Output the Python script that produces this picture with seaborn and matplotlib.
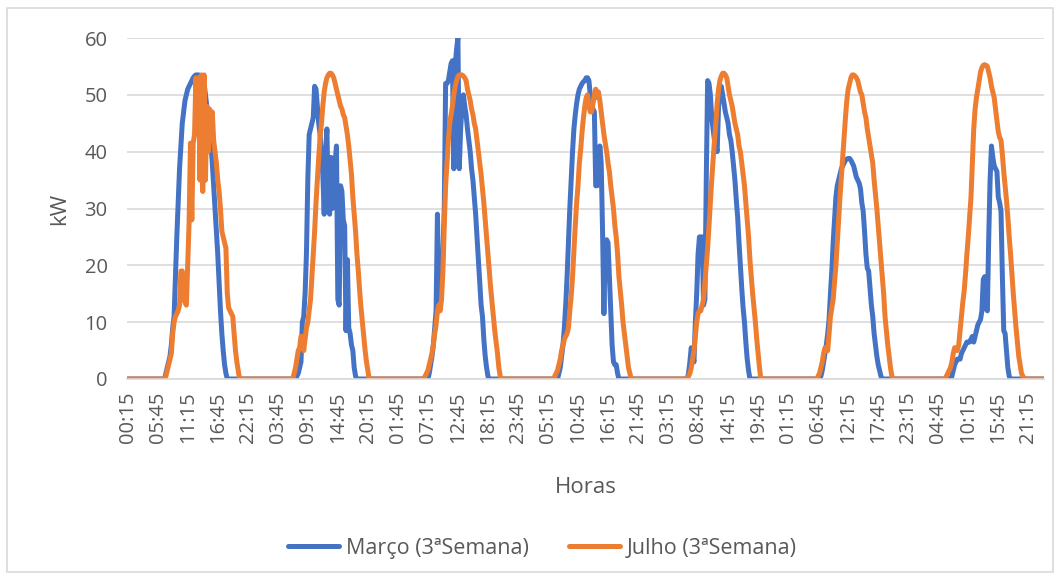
import numpy as np
import pandas as pd
import matplotlib
matplotlib.use("Agg")
import matplotlib.pyplot as plt
from matplotlib.lines import Line2D
from matplotlib.patches import Rectangle
import seaborn as sns

# ---------------- data (kW, 15-min steps, 7 days) ----------------
series_names = ["Março (3ªSemana)", "Julho (3ªSemana)"]
colors = ["#4472C4", "#ED7D31"]

# first non-zero step of each day (index within the day, 0 = 00:15)
marco_start = [27, 27, 28, 27, 26, 27, 27]
julho_start = [28, 25, 25, 24, 26, 25, 23]

marco_d1 = [0, 1, 2, 3, 4, 6, 9, 11, 18, 25, 31, 37, 41, 45, 47, 49, 50, 51, 51.5, 52,
            52.5, 53, 53.3, 53.5, 53.5, 53.5, 53.3, 53.2, 53, 52, 50, 48, 46, 43, 41.5, 38,
            34, 30, 26, 22, 17, 12, 8, 5, 2.5, 1, 0]
marco_d2 = [0, 0.5, 1, 2, 3, 10, 11, 15, 22, 35, 43, 44, 45, 46, 51.5, 51, 48, 45, 43, 39,
            36, 29, 40, 44, 30, 29, 39, 30, 35, 38, 41, 14, 13, 34, 33, 28, 27, 8.5, 21, 9,
            8, 6, 5, 2, 0.5, 0]
marco_d3 = [0, 1, 2.5, 4, 6, 9, 12, 29, 14, 15, 17, 22, 30, 52, 52, 52.5, 54, 55.5, 56, 37,
            55, 58, 60, 37, 44, 48, 50, 48, 46.5, 44, 42, 40, 37, 35, 32, 29, 25, 21, 17, 13,
            11, 7, 4, 2, 0.5, 0]
marco_d4 = [0, 1, 2, 4, 6, 9, 13, 18, 24, 30, 35, 40, 44, 46.5, 48.5, 50, 51, 51.5, 52, 52.3,
            52.5, 53, 53, 52.5, 50, 48, 47.5, 47, 34, 34, 36, 41, 38, 26, 11.5, 24, 24.5, 24,
            18, 12, 6, 3, 2.5, 2.5, 1, 0]
marco_d5 = [0, 1, 3, 5.5, 4, 3, 10, 15, 22, 25, 25, 25, 13, 14, 35, 52.5, 52, 50, 46, 44,
            42, 41, 40, 48, 50.5, 51.5, 50, 48.5, 47, 46, 45, 43, 42, 40, 37.5, 35, 31.5, 28.5,
            24, 20, 16, 12.5, 10, 6.5, 3.5, 1.5, 0]
marco_d6 = [0, 0.5, 1.5, 3, 4.5, 6, 8, 10.5, 15, 19, 24, 28, 32, 34, 35, 36, 37, 37.5, 38, 38.5,
            38.7, 38.8, 38.8, 38.5, 38, 37.5, 36.5, 35.5, 35, 34.5, 33.5, 31, 29.5, 26, 22, 19.5,
            19, 16, 13, 11, 8, 6, 4, 2.5, 1.5, 0.5, 0]
marco_d7 = [0, 0.5, 1.5, 2.5, 3, 3.5, 3.5, 3.5, 4.5, 5, 5.5, 6, 6.5, 6.5, 6.5, 7, 7.5, 6.5, 7.5, 8.5,
            9.5, 10, 10.5, 12, 17.5, 18, 12.5, 12, 25, 35, 41, 39, 37.5, 37, 36.5, 32, 31, 29.5,
            18, 8.5, 8, 5, 2, 0.5, 0]

julho_d1 = [0.5, 1.5, 2.5, 3.5, 4.5, 8, 10, 11, 11.5, 12, 13, 19, 19, 14, 13.5, 13, 20, 27.5, 41.5, 28,
            41.5, 43, 53, 44, 53, 35, 53.5, 33, 53.5, 35, 48, 40, 47.5, 42, 47, 42, 40, 38, 35, 33,
            30, 26, 25, 24, 23, 15, 12.5, 12, 11.5, 11, 8, 5, 3, 1.5, 0]
julho_d2 = [0, 1, 2, 3.5, 5, 5.5, 7.5, 7.5, 5, 7, 9, 10, 12, 14, 18, 22, 26, 31, 35, 39,
            42.5, 45, 48, 50.5, 52, 53, 53.5, 53.8, 53.8, 53.5, 53, 52, 51, 50, 49, 48, 47.5, 46.5,
            46, 44.5, 43, 41, 38.5, 36, 32, 29, 26, 22, 19, 15.5, 12.5, 10, 7.5, 5, 3, 1.5, 0]
julho_d3 = [0, 0.5, 1, 1.5, 2.5, 3.5, 4.5, 6, 8, 9.5, 12, 13, 12, 14, 19, 27, 34, 38, 42, 45,
            46.5, 48, 50, 51.5, 52.5, 53.2, 53.5, 53.5, 53.5, 53.3, 53, 52.5, 51, 50, 49, 47.5,
            46.5, 45, 44, 42, 40, 38, 36, 33.5, 31, 28, 25, 22, 19, 16, 13.5, 11, 8.5, 6.5, 4.5,
            2, 0.5, 0]
julho_d4 = [0, 0.5, 1, 1.5, 2.5, 3.5, 5, 6, 7, 7.5, 8, 9, 12, 14.5, 18, 22.5, 27, 31, 34, 38,
            40.5, 43.5, 46, 48, 49.5, 50, 48, 47, 47, 48.5, 50, 51, 49.5, 50.5, 49, 47, 45, 43,
            41.5, 40, 38, 36.5, 34, 32, 30, 27, 25, 22, 18, 15.5, 13, 10, 8, 6, 4, 2, 1, 0]
julho_d5 = [0, 0.5, 1, 2, 3.5, 5, 7.5, 10, 11.5, 12, 12, 13, 14, 17, 20, 23, 27, 31, 35, 38.5,
            42, 45, 48.5, 51, 52.5, 53.3, 53.8, 53.8, 53.5, 53, 51.5, 50, 49, 48, 46.5, 45, 44, 43,
            41, 40, 38, 36, 34, 31, 28, 25, 21, 18, 15, 12.5, 10, 7, 4.5, 2, 0]
julho_d6 = [0, 0.5, 1, 2, 3, 4.5, 5.5, 5, 5, 8, 11, 12.5, 14, 17, 20, 24, 28, 32, 35.5, 39,
            42.5, 46, 49, 51, 52, 53, 53.5, 53.5, 53.3, 53, 52.5, 51.5, 50.5, 50, 48.5, 47, 46, 44,
            42.5, 41, 39.5, 38, 35, 32.5, 30, 27, 24, 21, 18, 15, 11, 8.5, 6, 4, 2, 0.5, 0]
julho_d7 = [0, 0.5, 1, 1.5, 2, 3, 4.5, 5.5, 5.5, 5, 6, 8.5, 11, 13.5, 15.5, 18.5, 22, 25, 28.5, 32,
            38, 44, 47.5, 49.5, 51, 52.5, 54, 54.8, 55.2, 55.3, 55.2, 55, 54, 53, 51.5, 50.5, 49.5,
            47.5, 45.5, 43.5, 42.5, 42, 39.5, 36.5, 34, 31.5, 28.5, 25, 22, 18.5, 15, 12, 9, 6.5,
            4, 2.5, 1, 0.5, 0]

tick_labels = ["00:15", "05:45", "11:15", "16:45", "22:15", "03:45", "09:15", "14:45",
               "20:15", "01:45", "07:15", "12:45", "18:15", "23:45", "05:15", "10:45",
               "16:15", "21:45", "03:15", "08:45", "14:15", "19:45", "01:15", "06:45",
               "12:15", "17:45", "23:15", "04:45", "10:15", "15:45", "21:15"]
tick_step = 22
steps_per_day = 96
n_days = 7
y_ticks = [0, 10, 20, 30, 40, 50, 60]


def build(starts, days):
    full = np.zeros(steps_per_day * n_days)
    for d, (s, vals) in enumerate(zip(starts, days)):
        a = d * steps_per_day + s
        full[a:a + len(vals)] = vals
    return full


marco = build(marco_start, [marco_d1, marco_d2, marco_d3, marco_d4, marco_d5, marco_d6, marco_d7])
julho = build(julho_start, [julho_d1, julho_d2, julho_d3, julho_d4, julho_d5, julho_d6, julho_d7])
idx = np.arange(steps_per_day * n_days)

df = pd.concat([
    pd.DataFrame({"idx": idx, "kW": marco, "serie": series_names[0]}),
    pd.DataFrame({"idx": idx, "kW": julho, "serie": series_names[1]}),
])

# ---------------- plot ----------------
sns.set_theme(style="white")
plt.rcParams["font.family"] = ["Open Sans", "DejaVu Sans"]
txt = "#595959"
grid = "#d9d9d9"

fig = plt.figure(figsize=(10.61, 5.81), dpi=100)
ax = fig.add_axes([127 / 1061, 1 - 379 / 581, (1044 - 127) / 1061, (379 - 38) / 581])

sns.lineplot(data=df, x="idx", y="kW", hue="serie", palette=colors, linewidth=3.6,
             estimator=None, sort=False, legend=False, ax=ax)
for ln in ax.get_lines():
    ln.set_solid_joinstyle("round")
    ln.set_solid_capstyle("round")

ax.set_xlim(-0.5, idx[-1] + 0.5)
ax.set_ylim(0, 60)
ax.set_yticks(y_ticks)
ax.set_yticklabels([str(v) for v in y_ticks], color=txt, fontsize=14.5)
ax.set_xticks(idx[::tick_step][:len(tick_labels)])
ax.set_xticklabels(tick_labels, rotation=90, color=txt, fontsize=14.5)
ax.tick_params(axis="y", length=0, pad=14)
ax.tick_params(axis="x", length=0, pad=9)
ax.yaxis.grid(True, color=grid, linewidth=1.2)
ax.set_axisbelow(True)
for s in ["top", "right", "left"]:
    ax.spines[s].set_visible(False)
ax.spines["bottom"].set_color(grid)
ax.spines["bottom"].set_linewidth(1.2)

ax.set_ylabel("kW", color=txt, fontsize=16)
ax.yaxis.set_label_coords(-0.062, 0.5)
ax.set_xlabel("Horas", color=txt, fontsize=16)
ax.xaxis.set_label_coords(0.5, -0.287)

handles = [Line2D([0], [0], color=c, linewidth=3.6, solid_capstyle="round") for c in colors]
leg = fig.legend(handles, series_names, loc="center", bbox_to_anchor=(0.511, 1 - 548 / 581),
                 ncol=2, frameon=False, fontsize=15.5, handlelength=2.4, handletextpad=0.3,
                 columnspacing=1.85)
for t in leg.get_texts():
    t.set_color(txt)

fig.patches.append(Rectangle((7 / 1061, 1 - 572 / 581), (1053 - 7) / 1061, (572 - 8) / 581,
                             transform=fig.transFigure, fill=False, edgecolor=grid,
                             linewidth=1.2))

fig.savefig("out.png", dpi=100, facecolor="white")
